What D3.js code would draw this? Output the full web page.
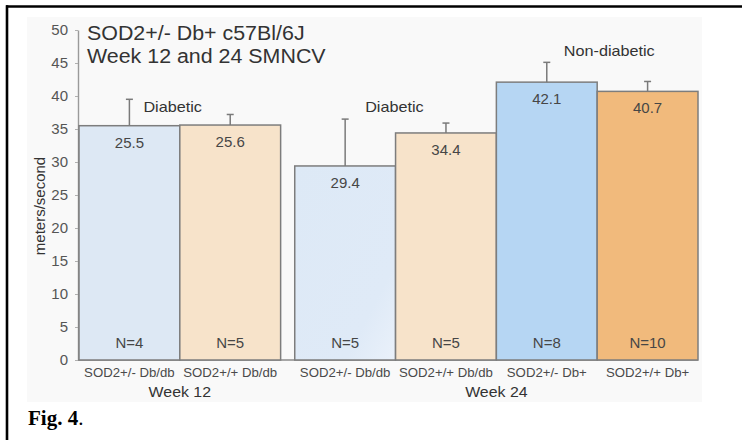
<!DOCTYPE html>
<html>
<head>
<meta charset="utf-8">
<script src="https://cdn.jsdelivr.net/npm/d3@7/dist/d3.min.js"></script>
<style>
  html, body { margin: 0; padding: 0; background: #ffffff; }
  svg { display: block; }
  text { font-family: "Liberation Sans", Arial, Helvetica, sans-serif; }
  text.caption { font-family: "Liberation Serif", "Times New Roman", serif; }
</style>
</head>
<body>
<svg id="chart" width="742" height="440"></svg>
<script>
// Sciatic motor nerve conduction velocity (m/s), mean ± error, per genotype and week
const categories = ["SOD2+/- Db/db", "SOD2+/+ Db/db", "SOD2+/- Db/db", "SOD2+/+ Db/db", "SOD2+/- Db+", "SOD2+/+ Db+"];
const weeks = ["Week 12", "Week 12", "Week 24", "Week 24", "Week 24", "Week 24"];
const means = [35.5, 35.6, 29.4, 34.4, 42.1, 40.7];
const errors = [4.0, 1.6, 7.1, 1.5, 3.0, 1.5];
const valueLabels = ["25.5", "25.6", "29.4", "34.4", "42.1", "40.7"];
const counts = [4, 5, 5, 5, 8, 10];
const yTicks = [0, 5, 10, 15, 20, 25, 30, 35, 40, 45, 50];
const titleLines = ["SOD2+/- Db+ c57Bl/6J", "Week 12 and 24 SMNCV"];
const statusNotes = [
  { text: "Diabetic", bar: 0, value: 37.6, dx: 14 },
  { text: "Diabetic", bar: 2, value: 37.6, dx: 20 },
  { text: "Non-diabetic", bar: 4, value: 46.0, dx: 17 }
];
const barColors = ["#dde8f4", "#f7e3ca", "url(#fadeBlue)", "#f7e3ca", "#b6d6f3", "#f1ba7c"];

const svg = d3.select("#chart");

// gradient for the week-24 heterozygous diabetic bar
const defs = svg.append("defs");
const g1 = defs.append("linearGradient").attr("id", "fadeBlue")
  .attr("x1", "0").attr("y1", "0").attr("x2", "1").attr("y2", "1");
g1.append("stop").attr("offset", "0").attr("stop-color", "#dde9f6");
g1.append("stop").attr("offset", "0.75").attr("stop-color", "#dfeaf7");
g1.append("stop").attr("offset", "1").attr("stop-color", "#eaf1fa");

// figure frame (top and left rules) and the light plot panel
svg.append("rect").attr("x", 27).attr("y", 17).attr("width", 675).attr("height", 385).attr("fill", "#f9f9f9");
svg.append("line").attr("x1", 6).attr("x2", 742).attr("y1", 6.5).attr("y2", 6.5)
  .attr("stroke", "#000").attr("stroke-width", 2.6);
svg.append("line").attr("x1", 7).attr("x2", 7).attr("y1", 5.2).attr("y2", 440)
  .attr("stroke", "#000").attr("stroke-width", 2.6);

// scales: one slot per bar, with a small gap between the two weeks
const gapSlots = 0.14;
const slotIndex = i => i + (weeks[i] === weeks[0] ? 0 : gapSlots);
const x = d3.scaleLinear().domain([0, categories.length + gapSlots]).range([79, 698]);
const barW = x(1) - x(0);
const y = d3.scaleLinear().domain([0, 50]).range([360, 30]);

function stretchText(sel, px, py, sx) {
  return sel.attr("transform", `translate(${px},${py}) scale(${sx},1)`);
}

// y axis
const axis = svg.append("g").attr("transform", "translate(78,0)")
  .call(d3.axisLeft(y).tickValues(yTicks).tickSize(3).tickSizeOuter(0).tickPadding(7));
axis.select(".domain").attr("stroke", "#9a9a9a").attr("stroke-width", 1.4);
axis.selectAll(".tick line").attr("stroke", "#b0b0b0");
axis.selectAll(".tick text").attr("font-size", 15).attr("fill", "#555");

svg.append("text").attr("font-size", 15).attr("fill", "#333").attr("text-anchor", "middle")
  .attr("transform", "translate(45,206) rotate(-90)").text("meters/second");

// baseline
svg.append("line").attr("x1", 78).attr("x2", x(categories.length + gapSlots))
  .attr("y1", y(0)).attr("y2", y(0)).attr("stroke", "#8a8a8a").attr("stroke-width", 1.4);

// bars
const idx = d3.range(categories.length);
svg.append("g").selectAll("rect").data(idx).join("rect")
  .attr("x", i => x(slotIndex(i)))
  .attr("y", i => y(means[i]))
  .attr("width", barW)
  .attr("height", i => y(0) - y(means[i]))
  .attr("fill", i => barColors[i])
  .attr("stroke", "#7d7d7d").attr("stroke-width", 1.5);

// error bars (upper whisker only)
const eb = svg.append("g").attr("stroke", "#7a7a7a").attr("stroke-width", 1.5);
idx.forEach(i => {
  const cx = x(slotIndex(i)) + barW / 2;
  eb.append("line").attr("x1", cx).attr("x2", cx)
    .attr("y1", y(means[i])).attr("y2", y(means[i] + errors[i]));
  eb.append("line").attr("x1", cx - 3.5).attr("x2", cx + 3.5)
    .attr("y1", y(means[i] + errors[i])).attr("y2", y(means[i] + errors[i]));
});

// value labels inside the bars
svg.append("g").selectAll("text").data(idx).join("text")
  .attr("x", i => x(slotIndex(i)) + barW / 2)
  .attr("y", i => y(means[i]) + 22)
  .attr("text-anchor", "middle").attr("font-size", 15).attr("fill", "#464646")
  .text(i => valueLabels[i]);

// group sizes
svg.append("g").selectAll("text").data(idx).join("text")
  .attr("x", i => x(slotIndex(i)) + barW / 2)
  .attr("y", y(0) - 12)
  .attr("text-anchor", "middle").attr("font-size", 15).attr("fill", "#464646")
  .text(i => "N=" + counts[i]);

// category labels
svg.append("g").selectAll("text").data(idx).join("text")
  .each(function (i) {
    stretchText(d3.select(this), x(slotIndex(i)) + barW / 2, 376.5, 1.1);
  })
  .attr("text-anchor", "middle").attr("font-size", 12).attr("fill", "#4a4a4a")
  .text(i => categories[i]);

// week labels centred under their bars
const weekNames = Array.from(new Set(weeks));
weekNames.forEach(w => {
  const members = idx.filter(i => weeks[i] === w);
  const left = x(slotIndex(members[0]));
  const right = x(slotIndex(members[members.length - 1])) + barW;
  stretchText(svg.append("text"), (left + right) / 2, 397, 1.06)
    .attr("text-anchor", "middle").attr("font-size", 15).attr("fill", "#333").text(w);
});

// diabetic / non-diabetic notes
statusNotes.forEach(n => {
  stretchText(svg.append("text"), x(slotIndex(n.bar)) + barW / 2 + n.dx, y(n.value), 1.08)
    .attr("font-size", 15).attr("fill", "#333").text(n.text);
});

// title
titleLines.forEach((t, k) => {
  stretchText(svg.append("text"), 87, 40 + k * 23, 1.07)
    .attr("font-size", 20).attr("fill", "#333").text(t);
});

// figure caption
const cap = svg.append("text").attr("class", "caption").attr("x", 28).attr("y", 425)
  .attr("font-size", 21).attr("fill", "#000");
cap.append("tspan").attr("font-weight", "bold").text("Fig. 4");
cap.append("tspan").text(".");
</script>
</body>
</html>
